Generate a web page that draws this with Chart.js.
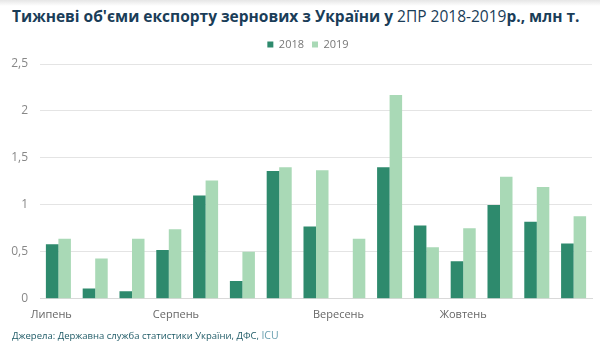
<!DOCTYPE html>
<html>
<head>
<meta charset="utf-8">
<script src="https://cdn.jsdelivr.net/npm/chart.js@4/dist/chart.umd.min.js"></script>
<style>
  html, body { margin: 0; padding: 0; background: #fff; }
  body { width: 600px; height: 347px; position: relative; overflow: hidden; font-family: "Open Sans", sans-serif; }
  #topband { position: absolute; left: 0; top: 0; width: 600px; height: 6px; background: linear-gradient(#e6e6e6, #ffffff); }
  #title { position: absolute; left: 12px; top: 5px; font-size: 15.5px; font-weight: 700; color: #1a3d58; white-space: nowrap; }
  #title .reg { font-weight: 400; }
  #wrap { position: absolute; left: 0; top: 30px; width: 600px; height: 300px; }
  #source { position: absolute; left: 12px; top: 328px; font-size: 9.5px; color: #1e5a66; white-space: nowrap; }
  #source .icu { color: #6aa0b0; font-size: 10.5px; }
</style>
</head>
<body>
<div id="topband"></div>
<div id="title">Тижневі об'єми експорту зернових з України у <span class="reg">2ПР 2018-2019</span>р., млн т.</div>
<div id="wrap"><canvas id="c" width="600" height="300"></canvas></div>
<div id="source">Джерела: Державна служба статистики України, ДФС, <span class="icu">ICU</span></div>
<script>
const categories = ['Липень', '', '', 'Серпень', '', '', '', '', 'Вересень', '', '', 'Жовтень', '', '', ''];
const series2018 = [0.58, 0.11, 0.08, 0.52, 1.10, 0.19, 1.36, 0.77, 0, 1.40, 0.78, 0.40, 1.00, 0.82, 0.59];
const series2019 = [0.64, 0.43, 0.64, 0.74, 1.26, 0.50, 1.40, 1.37, 0.64, 2.17, 0.55, 0.75, 1.30, 1.19, 0.88];
const yTicks = [0, 0.5, 1, 1.5, 2, 2.5];

// horizontal nudges for month labels (in spaces), to mimic reference placement
const labelPad = { 0: [0, 5], 3: [5, 0], 8: [0, 10], 11: [0, 0] };

const legendShift = {
  id: 'legendShift',
  afterLayout(chart) {
    const lg = chart.legend;
    if (lg) { lg.left += 12; lg.right += 12; lg.top -= 4; lg.bottom -= 4; }
  }
};

new Chart(document.getElementById('c'), {
  type: 'bar',
  data: {
    labels: categories,
    datasets: [
      { label: '2018', data: series2018, backgroundColor: '#2e8a6d', barPercentage: 1, categoryPercentage: 0.68 },
      { label: '2019', data: series2019, backgroundColor: '#a9d9b6', barPercentage: 1, categoryPercentage: 0.68 }
    ]
  },
  plugins: [legendShift],
  options: {
    responsive: false,
    animation: false,
    layout: { padding: { left: 0, right: 8, top: 5, bottom: 0 } },
    plugins: {
      legend: {
        display: true,
        position: 'top',
        labels: { boxWidth: 6, boxHeight: 6, padding: 8, color: '#777', font: { family: 'Open Sans', size: 11 } }
      },
      tooltip: { enabled: false }
    },
    scales: {
      x: {
        grid: { display: false, drawTicks: false },
        border: { display: true, color: '#d9d9d9' },
        ticks: {
          autoSkip: false, maxRotation: 0, padding: 9,
          color: '#666', font: { family: 'Open Sans', size: 11 },
          callback: function (v, i) {
            const l = categories[i];
            if (!l) return '';
            const p = labelPad[i] || [0, 0];
            return '\u00A0'.repeat(p[0]) + l + '\u00A0'.repeat(p[1]);
          }
        }
      },
      y: {
        min: 0, max: 2.5,
        afterFit: function (s) { s.width = 40; },
        afterBuildTicks: function (s) { s.ticks = yTicks.map(v => ({ value: v })); },
        grid: { color: '#e4e4e4', drawTicks: false },
        border: { display: false },
        ticks: {
          padding: 12, color: '#888', font: { family: 'Open Sans', size: 12 },
          callback: v => String(v).replace('.', ',')
        }
      }
    }
  }
});
</script>
</body>
</html>
